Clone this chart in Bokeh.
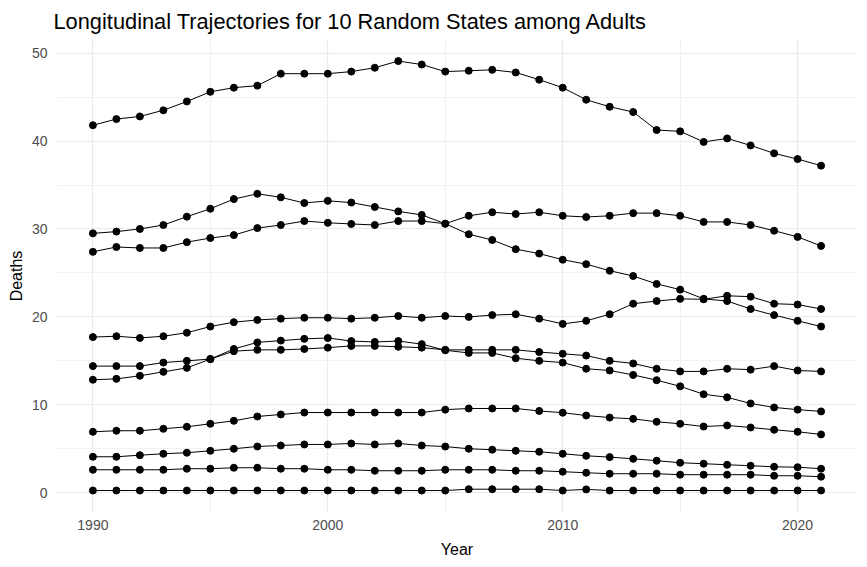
from bokeh.plotting import figure
from bokeh.models import Range1d, SingleIntervalTicker
from bokeh.embed import file_html
from bokeh.resources import INLINE

years = list(range(1990, 2022))

state_a = [41.8, 42.5, 42.8, 43.5, 44.5, 45.6, 46.07, 46.3, 47.66, 47.66, 47.66, 47.9, 48.34, 49.1, 48.7, 47.9,
           48.0, 48.1, 47.8, 46.98, 46.07, 44.7, 43.9, 43.3, 41.25, 41.1, 39.9, 40.3, 39.5, 38.6, 37.95, 37.2]
state_b = [29.5, 29.7, 30.0, 30.45, 31.4, 32.3, 33.4, 34.0, 33.6, 32.95, 33.2, 33.0, 32.5, 32.0, 31.6, 30.6,
           29.4, 28.75, 27.7, 27.2, 26.5, 26.0, 25.25, 24.65, 23.75, 23.1, 22.05, 21.8, 20.9, 20.2, 19.55, 18.9]
state_c = [27.4, 27.95, 27.84, 27.84, 28.5, 28.97, 29.3, 30.1, 30.45, 30.9, 30.7, 30.57, 30.45, 30.9, 30.9, 30.6,
           31.5, 31.9, 31.7, 31.9, 31.5, 31.36, 31.5, 31.8, 31.8, 31.5, 30.8, 30.8, 30.45, 29.8, 29.1, 28.07]
state_d = [17.7, 17.8, 17.6, 17.8, 18.2, 18.9, 19.4, 19.65, 19.8, 19.9, 19.9, 19.8, 19.9, 20.1, 19.9, 20.1,
           20.0, 20.2, 20.3, 19.8, 19.2, 19.55, 20.3, 21.5, 21.8, 22.05, 22.0, 22.4, 22.3, 21.5, 21.4, 20.9]
state_e = [14.4, 14.4, 14.4, 14.8, 15.0, 15.2, 16.1, 16.25, 16.25, 16.35, 16.5, 16.7, 16.7, 16.6, 16.5, 16.25,
           16.25, 16.25, 16.25, 16.0, 15.8, 15.6, 15.0, 14.7, 14.1, 13.8, 13.8, 14.1, 14.0, 14.4, 13.9, 13.8]
state_f = [12.85, 12.95, 13.3, 13.75, 14.2, 15.2, 16.35, 17.1, 17.3, 17.5, 17.6, 17.25, 17.15, 17.25, 16.9, 16.2,
           15.9, 15.9, 15.3, 15.0, 14.8, 14.1, 13.9, 13.4, 12.8, 12.1, 11.2, 10.85, 10.15, 9.7, 9.45, 9.25]
state_g = [6.93, 7.05, 7.05, 7.27, 7.5, 7.84, 8.18, 8.67, 8.9, 9.12, 9.12, 9.12, 9.12, 9.12, 9.12, 9.45,
           9.58, 9.58, 9.58, 9.3, 9.1, 8.78, 8.55, 8.4, 8.07, 7.84, 7.53, 7.65, 7.42, 7.16, 6.93, 6.63]
state_h = [4.09, 4.09, 4.27, 4.43, 4.55, 4.77, 5.0, 5.26, 5.37, 5.49, 5.49, 5.6, 5.49, 5.6, 5.37, 5.25,
           5.0, 4.89, 4.77, 4.66, 4.43, 4.2, 4.05, 3.86, 3.64, 3.41, 3.3, 3.18, 3.07, 2.95, 2.9, 2.73]
state_i = [2.61, 2.61, 2.61, 2.61, 2.73, 2.73, 2.84, 2.84, 2.73, 2.73, 2.61, 2.61, 2.5, 2.5, 2.5, 2.61,
           2.61, 2.61, 2.5, 2.5, 2.39, 2.27, 2.16, 2.16, 2.16, 2.05, 2.05, 2.05, 2.05, 1.93, 1.93, 1.82]
state_j = [0.25, 0.25, 0.25, 0.25, 0.25, 0.25, 0.25, 0.25, 0.25, 0.25, 0.25, 0.25, 0.25, 0.25, 0.25, 0.25,
           0.4, 0.4, 0.4, 0.4, 0.25, 0.38, 0.25, 0.25, 0.25, 0.25, 0.25, 0.25, 0.25, 0.25, 0.25, 0.25]

series = [state_a, state_b, state_c, state_d, state_e, state_f, state_g, state_h, state_i, state_j]

FONT = "Liberation Sans"

p = figure(width=865, height=565, output_backend="svg", toolbar_location=None,
           x_range=Range1d(1988.45, 2022.55), y_range=Range1d(-2.25, 51.55),
           min_border_left=56, min_border_right=8, min_border_top=39, min_border_bottom=53,
           title="Longitudinal Trajectories for 10 Random States among Adults")

p.title.text_font = FONT
p.title.text_font_size = "21.8px"
p.title.text_font_style = "normal"
p.title.text_color = "black"
p.title.align = "left"
p.title.offset = -3
p.title.standoff = 12

p.outline_line_color = None
p.background_fill_color = "white"
p.border_fill_color = "white"

p.xaxis.ticker = SingleIntervalTicker(interval=10, num_minor_ticks=2)
p.yaxis.ticker = SingleIntervalTicker(interval=10, num_minor_ticks=2)

for ax in (p.xaxis[0], p.yaxis[0]):
    ax.axis_line_color = None
    ax.major_tick_line_color = None
    ax.minor_tick_line_color = None
    ax.major_label_text_font = FONT
    ax.major_label_text_font_size = "14px"
    ax.major_label_text_color = "#4D4D4D"
    ax.axis_label_text_font = FONT
    ax.axis_label_text_font_size = "16px"
    ax.axis_label_text_font_style = "normal"
    ax.axis_label_text_color = "black"

p.xaxis.axis_label = "Year"
p.yaxis.axis_label = "Deaths"
p.xaxis.major_label_standoff = 1
p.xaxis.axis_label_standoff = 8
p.yaxis.major_label_standoff = 3
p.yaxis.axis_label_standoff = 4

for g in (p.xgrid[0], p.ygrid[0]):
    g.grid_line_color = "#EBEBEB"
    g.grid_line_width = 1.2
    g.minor_grid_line_color = "#EBEBEB"
    g.minor_grid_line_width = 0.7

for s in series:
    p.line(years, s, line_color="black", line_width=1)
    p.scatter(years, s, size=7, fill_color="black", line_color="black")

open("out.html", "w").write(file_html(p, INLINE))
